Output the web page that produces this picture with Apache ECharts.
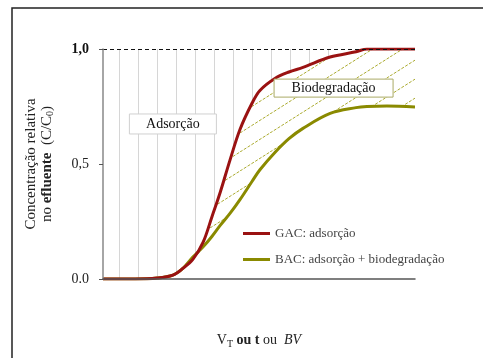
<!DOCTYPE html>
<html>
<head>
<meta charset="utf-8">
<script src="https://cdn.jsdelivr.net/npm/echarts@6/dist/echarts.min.js"></script>
<style>
  html, body { margin: 0; padding: 0; background: #fff; }
  #chart { width: 483px; height: 358px; }
</style>
</head>
<body>
<div id="chart"></div>
<script>
// shared x positions (arbitrary units, axis 0..100, no labels)
const xVals = [0, 10.3, 17.3, 22.4, 25.6, 28.8, 32.1, 34.9, 37.5, 40.7, 43.9, 47.8, 50.3, 55.1, 59.6, 64.1, 72.8, 81.1, 84.6, 91, 100];
// GAC: adsorção
const gacVals = [0, 0, 0.004, 0.017, 0.046, 0.085, 0.16, 0.27, 0.374, 0.517, 0.65, 0.765, 0.82, 0.872, 0.9, 0.92, 0.965, 0.988, 1.0, 1.0, 1.0];
// BAC: adsorção + biodegradação
const bacVals = [0, 0, 0.004, 0.017, 0.046, 0.095, 0.14, 0.185, 0.232, 0.285, 0.345, 0.425, 0.475, 0.55, 0.61, 0.655, 0.72, 0.745, 0.75, 0.752, 0.748];
// region hatched with vertical lines (adsorção), from 1,0 down to the GAC curve
const adsX = [5, 76];
const yTicks = { 0: '0.0', 0.5: '0,5', 1: '{b|1,0}' };

const serif = 'Liberation Serif';
const redC = '#9a1212';
const oliveC = '#8a8a00';

function pairs(xs, ys) {
  return xs.map((x, i) => [x, ys[i]]);
}

// vertical line pattern
const vCanvas = document.createElement('canvas');
vCanvas.width = 19; vCanvas.height = 4;
let vc = vCanvas.getContext('2d');
vc.fillStyle = '#d6d6d6';
vc.fillRect(5, 0, 1, 4);

// diagonal hatch pattern (white background)
const dCanvas = document.createElement('canvas');
dCanvas.width = 30; dCanvas.height = 19;
let dc = dCanvas.getContext('2d');
dc.fillStyle = '#fff';
dc.fillRect(0, 0, 30, 19);
dc.strokeStyle = '#abab30';
dc.lineWidth = 1;
dc.setLineDash([3, 1.5]);
dc.beginPath();
dc.moveTo(0, 19);
dc.lineTo(30, 0);
dc.stroke();

let chart = echarts.init(document.getElementById('chart'));
chart.setOption({
  animation: false,
  backgroundColor: '#fff',
  textStyle: { fontFamily: serif },
  grid: { left: 103, right: 68, top: 49, bottom: 79 },
  legend: {
    data: ['GAC: adsorção', 'BAC: adsorção + biodegradação'],
    orient: 'vertical',
    left: 243,
    top: 227,
    padding: 0,
    itemGap: 13,
    itemWidth: 27,
    itemHeight: 3,
    icon: 'rect',
    textStyle: { fontFamily: serif, fontSize: 13, color: '#444' }
  },
  xAxis: {
    type: 'value',
    min: 0,
    max: 100,
    z: 5,
    axisLine: { lineStyle: { color: '#555', width: 1.5 } },
    axisTick: { show: false },
    axisLabel: { show: false },
    splitLine: { show: false },
    name: 'V{sub|T} {b|ou t} ou  {i|BV}',
    nameLocation: 'middle',
    nameGap: 53,
    nameTextStyle: {
      fontFamily: serif, fontSize: 14, color: '#222',
      rich: {
        sub: { fontSize: 10, fontFamily: serif, color: '#222', padding: [7, 0, 0, 0] },
        b: { fontWeight: 'bold', fontSize: 14, fontFamily: serif, color: '#222' },
        i: { fontStyle: 'italic', fontSize: 14, fontFamily: serif, color: '#222' }
      }
    }
  },
  yAxis: {
    type: 'value',
    min: 0,
    max: 1,
    interval: 0.5,
    z: 5,
    axisLine: { show: true, lineStyle: { color: '#888', width: 1.5 } },
    axisTick: { show: true, length: 4, lineStyle: { color: '#555' } },
    splitLine: { show: false },
    axisLabel: {
      margin: 14,
      fontFamily: serif,
      fontSize: 14,
      color: '#222',
      formatter: v => yTicks[v],
      rich: { b: { fontWeight: 'bold', fontFamily: serif, fontSize: 14, color: '#111' } }
    },
    name: 'Concentração relativa\n{n|no} {b|efluente}  (C/C{s|0})',
    nameLocation: 'middle',
    nameRotate: 90,
    nameGap: 48,
    nameTextStyle: {
      fontFamily: serif, fontSize: 15, color: '#222', lineHeight: 16,
      rich: {
        n: { fontFamily: serif, fontSize: 15, color: '#222', lineHeight: 16 },
        b: { fontFamily: serif, fontSize: 15, color: '#222', fontWeight: 'bold', lineHeight: 16 },
        s: { fontFamily: serif, fontSize: 10, color: '#222', padding: [6, 0, 0, 0], lineHeight: 16 }
      }
    }
  },
  series: [
    {
      name: 'ads',
      type: 'line',
      data: pairs(adsX, [1, 1]),
      showSymbol: false,
      silent: true,
      lineStyle: { width: 0 },
      areaStyle: { color: { image: vCanvas, repeat: 'repeat' }, opacity: 1 },
      markLine: {
        silent: true,
        symbol: 'none',
        label: { show: false },
        lineStyle: { color: '#111', type: [4, 3], width: 1 },
        data: [{ yAxis: 1 }]
      }
    },
    {
      name: 'bio',
      type: 'line',
      data: pairs(xVals, gacVals),
      smooth: 0.35,
      showSymbol: false,
      silent: true,
      lineStyle: { width: 0 },
      areaStyle: { color: { image: dCanvas, repeat: 'repeat' }, opacity: 1 }
    },
    {
      name: 'BAC: adsorção + biodegradação',
      type: 'line',
      data: pairs(xVals, bacVals),
      smooth: 0.35,
      showSymbol: false,
      color: oliveC,
      lineStyle: { color: oliveC, width: 3 },
      areaStyle: { color: '#fff', opacity: 1 }
    },
    {
      name: 'GAC: adsorção',
      type: 'line',
      data: pairs(xVals, gacVals),
      smooth: 0.35,
      showSymbol: false,
      color: redC,
      lineStyle: { color: redC, width: 3 }
    }
  ]
});

// annotation boxes placed in data coordinates
function box(id, text, cx, cy, w, h, stroke) {
  const p = chart.convertToPixel({ gridIndex: 0 }, [cx, cy]);
  return [
    { type: 'rect', id: id + 'Box', z: 20,
      shape: { x: p[0] - w / 2, y: p[1] - h / 2, width: w, height: h },
      style: { fill: '#fff', stroke: stroke, lineWidth: 1 } },
    { type: 'text', id: id + 'Text', z: 21, x: p[0], y: p[1],
      style: { text: text, align: 'center', verticalAlign: 'middle',
        font: '14px "Liberation Serif"', fill: '#111' } }
  ];
}

chart.setOption({
  graphic: [
    { type: 'rect', id: 'frame', z: 0, shape: { x: 12, y: 8, width: 490, height: 370 },
      style: { fill: 'none', stroke: '#222', lineWidth: 1.5 } }
  ].concat(
    box('ads', 'Adsorção', 22.4, 0.674, 87, 20, '#d0d0d0'),
    box('bio', 'Biodegradação', 73.9, 0.83, 119, 18, '#aaaa66')
  )
});
</script>
</body>
</html>
